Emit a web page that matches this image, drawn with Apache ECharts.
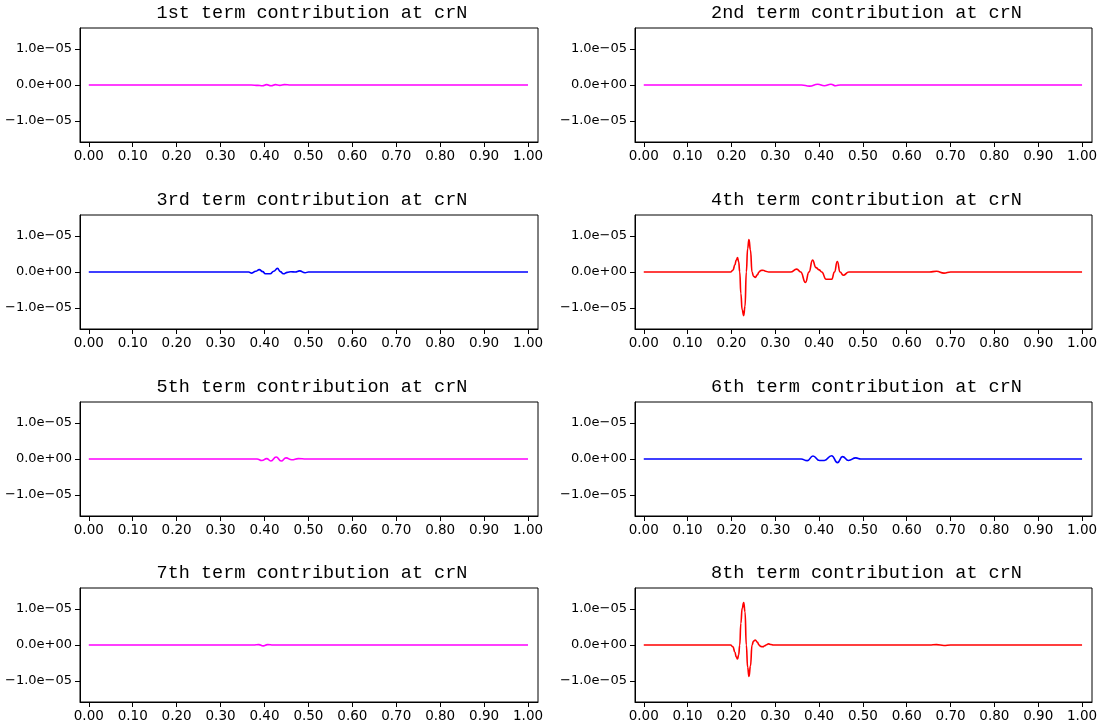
<!DOCTYPE html>
<html>
<head>
<meta charset="utf-8">
<script src="https://cdn.jsdelivr.net/npm/echarts@6/dist/echarts.min.js"></script>
<style>
html,body{margin:0;padding:0;background:#fff;}
#chart{width:1108px;height:727px;}
</style>
</head>
<body>
<div id="chart"></div>
<script>
// ---- data (y values in units of 1e-5, scaled below) ----
const titles = [
  "1st term contribution at crN", "2nd term contribution at crN",
  "3rd term contribution at crN", "4th term contribution at crN",
  "5th term contribution at crN", "6th term contribution at crN",
  "7th term contribution at crN", "8th term contribution at crN"
];
const xTicks = [0, 0.1, 0.2, 0.3, 0.4, 0.5, 0.6, 0.7, 0.8, 0.9, 1.0];
const yTicks = [-1e-5, 0, 1e-5];

const t1X = [0, 0.37, 0.385, 0.395, 0.405, 0.415, 0.425, 0.435, 0.445, 0.46, 0.48, 1];
const t1Y = [0, 0, -0.01, -0.02, 0.01, -0.02, 0.01, -0.01, 0.01, 0, 0, 0];

const t2X = [0, 0.35, 0.36, 0.378, 0.397, 0.412, 0.427, 0.438, 0.448, 0.46, 1];
const t2Y = [0, 0, 0, -0.03, 0.02, -0.02, 0.02, -0.02, 0.0, 0, 0];

const t3X = [0, 0.35, 0.364, 0.371, 0.380, 0.388, 0.396, 0.402, 0.413, 0.421, 0.4296, 0.436, 0.443, 0.452, 0.46, 0.47, 0.48, 0.4925, 0.50, 0.52, 1];
const t3Y = [0, 0, 0, -0.03, 0.02, 0.065, 0.01, -0.05, -0.05, 0.02, 0.10, 0.01, -0.05, -0.01, 0.005, 0, 0.03, -0.02, 0, 0, 0];

const t4X = [0, 0.19, 0.198, 0.2035, 0.208, 0.211, 0.214, 0.2165, 0.219, 0.2215, 0.2245, 0.228, 0.231, 0.234, 0.237, 0.240, 0.2435, 0.247, 0.2505, 0.2545, 0.259, 0.263, 0.267, 0.272, 0.278, 0.285, 0.30, 0.325, 0.335, 0.349, 0.358, 0.369, 0.377, 0.385, 0.393, 0.400, 0.406, 0.416, 0.429, 0.435, 0.4416, 0.448, 0.455, 0.468, 0.48, 0.64, 0.652, 0.668, 0.685, 0.70, 0.72, 1];
const t4Y = [0, 0, 0, 0.05, 0.2, 0.33, 0.40, 0.28, 0, -0.6, -1.05, -1.21, -0.95, 0, 0.65, 0.90, 0.6, 0, -0.12, -0.15, -0.08, 0, 0.04, 0.05, 0.02, 0, 0, 0, 0, 0.08, 0, -0.29, 0, 0.33, 0.12, 0.06, 0, -0.2, -0.2, 0, 0.29, 0, -0.09, 0, 0, 0, 0, 0.02, -0.03, 0, 0, 0];

const t5X = [0, 0.37, 0.383, 0.394, 0.405, 0.4145, 0.4266, 0.438, 0.449, 0.462, 0.477, 0.495, 0.51, 1];
const t5Y = [0, 0, 0, -0.04, 0.01, -0.055, 0.055, -0.055, 0.03, -0.02, 0.01, 0, 0, 0];

const t6X = [0, 0.345, 0.359, 0.373, 0.386, 0.401, 0.412, 0.4286, 0.442, 0.4535, 0.467, 0.484, 0.495, 0.51, 1];
const t6Y = [0, 0, 0, -0.046, 0.083, -0.04, -0.04, 0.09, -0.10, 0.065, -0.04, 0.03, 0, 0, 0];

const t7X = [0, 0.36, 0.375, 0.387, 0.397, 0.407, 0.42, 0.44, 1];
const t7Y = [0, 0, 0, 0.01, -0.025, 0.01, 0, 0, 0];

const t8X = [0, 0.19, 0.198, 0.2035, 0.208, 0.211, 0.214, 0.2165, 0.219, 0.2215, 0.2245, 0.228, 0.231, 0.234, 0.237, 0.240, 0.2435, 0.247, 0.2505, 0.2545, 0.259, 0.263, 0.267, 0.272, 0.276, 0.279, 0.285, 0.29, 0.296, 0.31, 0.64, 0.652, 0.668, 0.685, 0.70, 0.72, 1];
const t8Y = [0, 0, 0, -0.05, -0.2, -0.33, -0.39, -0.27, 0, 0.6, 1.02, 1.18, 0.92, 0, -0.62, -0.87, -0.58, 0, 0.11, 0.14, 0.08, 0, -0.04, -0.05, -0.02, 0, 0.03, 0.015, 0, 0, 0, 0, 0.01, -0.015, 0, 0, 0];

const seriesX = [t1X, t2X, t3X, t4X, t5X, t6X, t7X, t8X];
const seriesY = [t1Y, t2Y, t3Y, t4Y, t5Y, t6Y, t7Y, t8Y];
const UNIT = 1e-5;

// ---- layout / style ----
const colors = ['#ff00ff', '#ff00ff', '#0000ff', '#ff0000', '#ff00ff', '#0000ff', '#ff00ff', '#ff0000'];
const colLeft = [80, 635];
const colWidth = [458, 457];
const rowTop = [28, 215, 402, 588];
const plotH = 114;

function fmtY(v) {
  if (v === 0) return '0.0e+00';
  const s = v < 0 ? '\u2212' : '';
  return s + '1.0e\u221205';
}

const grids = [], xAxes = [], yAxes = [], series = [], titleOpts = [];
for (let i = 0; i < 8; i++) {
  const c = i % 2, r = Math.floor(i / 2);
  grids.push({
    left: colLeft[c], top: rowTop[r], width: colWidth[c], height: plotH,
    show: true, borderColor: '#000', borderWidth: 1, backgroundColor: 'transparent',
    containLabel: false, outerBoundsMode: 'none'
  });
  titleOpts.push({
    text: titles[i],
    left: colLeft[c] + colWidth[c] / 2 - 2,
    top: rowTop[r] - 29,
    textAlign: 'center',
    textStyle: { fontFamily: 'Liberation Mono', fontWeight: 'normal', fontSize: 18.5, color: '#000' }
  });
  xAxes.push({
    type: 'value', gridIndex: i, min: -0.02, max: 1.0227,
    axisLine: { show: true, onZero: false, lineStyle: { color: '#000', width: 1 } },
    axisTick: { show: true, length: 5, lineStyle: { color: '#000', width: 1 }, customValues: xTicks },
    axisLabel: { customValues: xTicks, formatter: v => v.toFixed(2), color: '#000',
      fontFamily: 'DejaVu Sans', fontSize: 13.5, margin: 7 },
    splitLine: { show: false }
  });
  yAxes.push({
    type: 'value', gridIndex: i, min: -1.58e-5, max: 1.58e-5,
    axisLine: { show: true, onZero: false, lineStyle: { color: '#000', width: 1 } },
    axisTick: { show: true, length: 5, lineStyle: { color: '#000', width: 1 }, customValues: yTicks },
    axisLabel: { customValues: yTicks, formatter: fmtY, color: '#000',
      fontFamily: 'DejaVu Sans', fontSize: 13, margin: 8 },
    splitLine: { show: false }
  });
  series.push({
    type: 'line', xAxisIndex: i, yAxisIndex: i,
    data: seriesX[i].map((x, k) => [x, seriesY[i][k] * UNIT]),
    showSymbol: false, smooth: 0.5, smoothMonotone: 'x',
    lineStyle: { color: colors[i], width: 1.6 },
    itemStyle: { color: colors[i] },
    animation: false, silent: true
  });
}

const chart = echarts.init(document.getElementById('chart'), null, { renderer: 'canvas' });
chart.setOption({
  backgroundColor: '#fff',
  animation: false,
  title: titleOpts,
  grid: grids,
  xAxis: xAxes,
  yAxis: yAxes,
  series: series
});
</script>
</body>
</html>
